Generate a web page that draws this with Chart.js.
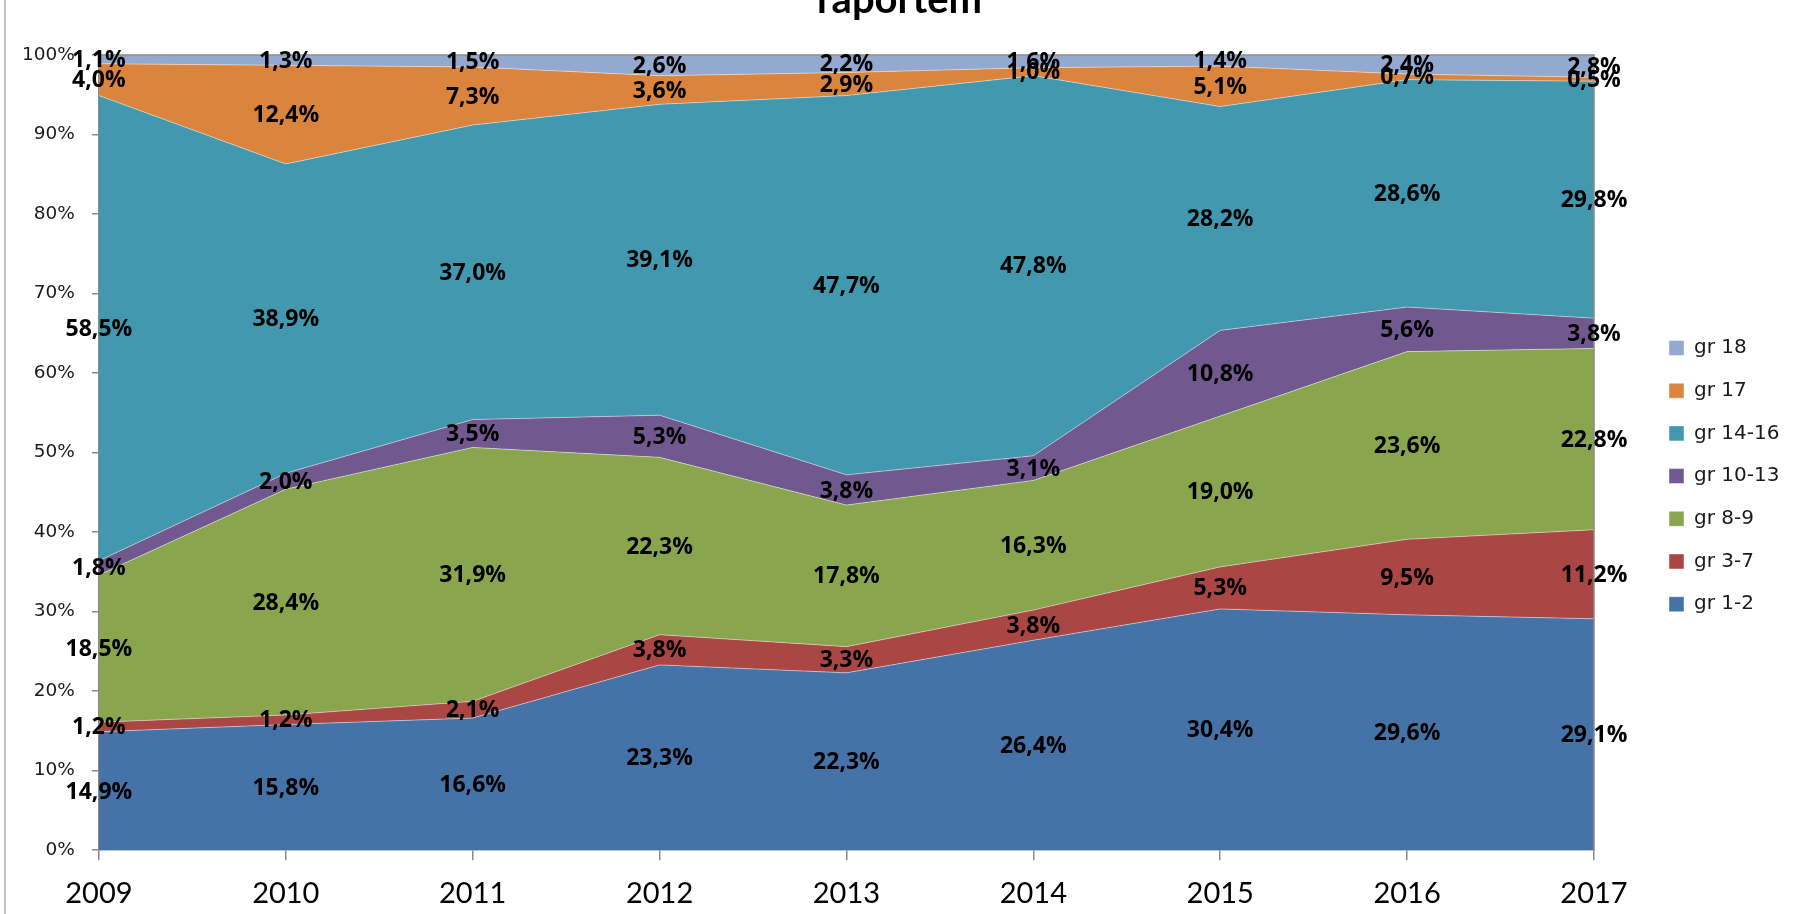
<!DOCTYPE html>
<html>
<head>
<meta charset="utf-8">
<script src="https://cdn.jsdelivr.net/npm/chart.js@4.4.0/dist/chart.umd.min.js"></script>
<style>
    html, body { margin: 0; padding: 0; background: #fff; }
    #wrap { width: 1794px; height: 914px; }
</style>
</head>
<body>
<div id="wrap"><canvas id="myChart" width="1794" height="914"></canvas></div>
<script>
const years = ['2009', '2010', '2011', '2012', '2013', '2014', '2015', '2016', '2017'];

const gr12   = [14.9, 15.8, 16.6, 23.3, 22.3, 26.4, 30.4, 29.6, 29.1];
const gr37   = [1.2, 1.2, 2.1, 3.8, 3.3, 3.8, 5.3, 9.5, 11.2];
const gr89   = [18.5, 28.4, 31.9, 22.3, 17.8, 16.3, 19.0, 23.6, 22.8];
const gr1013 = [1.8, 2.0, 3.5, 5.3, 3.8, 3.1, 10.8, 5.6, 3.8];
const gr1416 = [58.5, 38.9, 37.0, 39.1, 47.7, 47.8, 28.2, 28.6, 29.8];
const gr17   = [4.0, 12.4, 7.3, 3.6, 2.9, 1.0, 5.1, 0.7, 0.5];
const gr18   = [1.1, 1.3, 1.5, 2.6, 2.2, 1.6, 1.4, 2.4, 2.8];

const seriesNames = ['gr 1-2', 'gr 3-7', 'gr 8-9', 'gr 10-13', 'gr 14-16', 'gr 17', 'gr 18'];
const seriesValues = [gr12, gr37, gr89, gr1013, gr1416, gr17, gr18];
const seriesColors = ['#4572A7', '#AA4643', '#89A54E', '#71588F', '#4198AF', '#DB843D', '#93A9CF'];

const yTicks = [0, 10, 20, 30, 40, 50, 60, 70, 80, 90, 100];

// 100% stacked like in Excel: every year is scaled to its own total
const totals = years.map((y, j) => seriesValues.reduce((s, arr) => s + arr[j], 0));
const shares = (arr) => arr.map((v, j) => v / totals[j] * 100);

const fmt = (v) => v.toFixed(1).replace('.', ',') + '%';

const axisGray = '#8a8a8a';

const frame = {
    id: 'frame',
    beforeInit: (chart) => {
        const fit = chart.legend.fit;
        chart.legend.fit = function () {
            fit.call(this);
            this.width = 200;
        };
    },
    afterLayout: (chart) => {
        const pad = chart.legend.options.labels.padding;
        chart.legend.left = chart.chartArea.right + 75 - pad;
        chart.legend.top = 338 - pad;
    },
    afterDatasetsDraw: (chart) => {
        const ctx = chart.ctx;
        const a = chart.chartArea;
        ctx.save();
        ctx.strokeStyle = axisGray;
        ctx.lineWidth = 1.5;
        ctx.beginPath();
        ctx.moveTo(a.left, a.top);
        ctx.lineTo(a.right, a.top);
        ctx.lineTo(a.right, a.bottom);
        ctx.stroke();

        ctx.font = 'bold 23px "Open Sans"';
        ctx.fillStyle = '#000';
        ctx.textAlign = 'center';
        ctx.textBaseline = 'middle';
        seriesValues.forEach((vals, i) => {
            const meta = chart.getDatasetMeta(i);
            const prev = i > 0 ? chart.getDatasetMeta(i - 1) : null;
            meta.data.forEach((pt, j) => {
                const base = prev ? prev.data[j].y : chart.scales.y.getPixelForValue(0);
                ctx.fillText(fmt(vals[j]), pt.x, (pt.y + base) / 2 + 1);
            });
        });
        ctx.restore();
    },
    afterDraw: (chart) => {
        const ctx = chart.ctx;
        ctx.save();
        ctx.fillStyle = '#c4c4c4';
        ctx.fillRect(4, 0, 2, chart.height);
        ctx.restore();
    }
};

const datasets = seriesValues.map((vals, i) => ({
    label: seriesNames[i],
    data: shares(vals),
    backgroundColor: seriesColors[i],
    borderColor: 'rgba(255,255,255,0.45)',
    borderWidth: 1,
    pointRadius: 0,
    tension: 0,
    fill: i === 0 ? 'origin' : '-1'
}));

const ctx = document.getElementById('myChart').getContext('2d');
const myChart = new Chart(ctx, {
    type: 'line',
    plugins: [frame],
    data: {
        labels: years,
        datasets: datasets
    },
    options: {
        responsive: false,
        animation: false,
        devicePixelRatio: 1,
        layout: {
            padding: { left: 5, right: 0, top: 0, bottom: -13 }
        },
        plugins: {
            title: {
                display: true,
                text: 'raportem',
                color: '#000',
                font: { family: 'Lato', size: 40, weight: 'bold' },
                padding: { top: -24, bottom: 31 }
            },
            legend: {
                position: 'right',
                align: 'start',
                reverse: true,
                labels: {
                    boxWidth: 15,
                    boxHeight: 15,
                    padding: 22.7,
                    color: '#1a1a1a',
                    font: { family: 'DejaVu Sans', size: 20 }
                }
            },
            tooltip: { enabled: false }
        },
        scales: {
            x: {
                offset: false,
                grid: {
                    drawOnChartArea: false,
                    drawTicks: true,
                    tickLength: 10,
                    color: axisGray,
                    lineWidth: 1.5
                },
                border: { display: true, color: axisGray, width: 1.5 },
                ticks: {
                    color: '#000',
                    padding: 16,
                    maxRotation: 0,
                    font: { family: 'Lato', size: 29 }
                }
            },
            y: {
                stacked: true,
                min: 0,
                max: 100,
                afterBuildTicks: (scale) => {
                    scale.ticks = yTicks.map((v) => ({ value: v }));
                },
                grid: {
                    drawOnChartArea: false,
                    drawTicks: true,
                    tickLength: 7,
                    color: axisGray,
                    lineWidth: 1.5
                },
                border: { display: true, color: axisGray, width: 1.5 },
                ticks: {
                    color: '#1a1a1a',
                    padding: 17,
                    font: { family: 'DejaVu Sans', size: 18.5 },
                    callback: (v) => v + '%'
                }
            }
        }
    }
});
</script>
</body>
</html>
